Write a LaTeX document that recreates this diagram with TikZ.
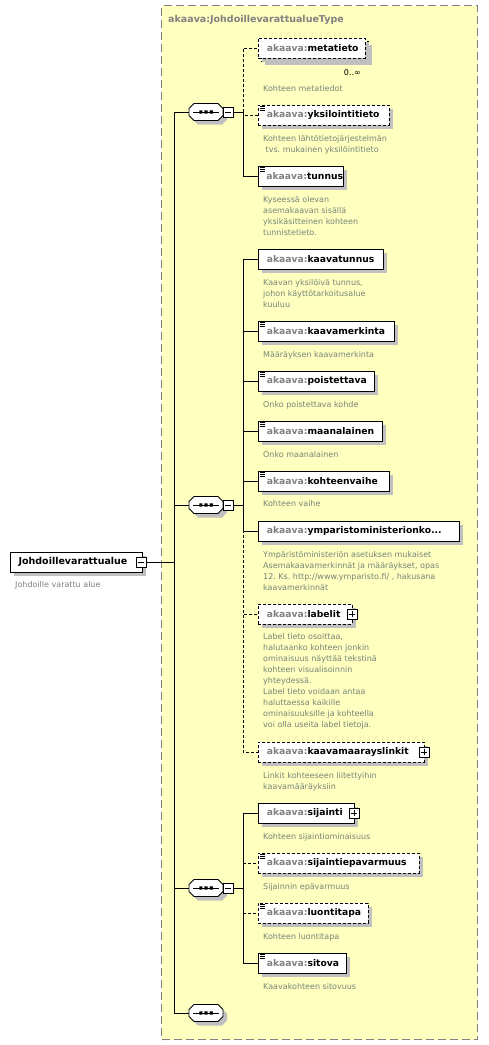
\documentclass[tikz,border=0pt]{standalone}
\usepackage{fontspec}
\setmainfont{DejaVu Sans}
\frenchspacing
\usetikzlibrary{shadows}
\definecolor{typefill}{RGB}{255,255,192}
\definecolor{typeline}{RGB}{128,128,128}
\definecolor{prefixc}{RGB}{128,128,128}
\definecolor{descc}{RGB}{120,132,120}
\definecolor{shadowc}{RGB}{192,192,192}
\newcommand\pfx{\textcolor{prefixc}{akaava:}}
\newcommand\dl[1]{\begin{tabular}[t]{@{}l@{}}#1\end{tabular}}
\newcommand\docicon[1]{\draw[line width=0.6pt] ([shift={(2,1.2)}]#1.north west) -- +(5,0) ([shift={(2,3.2)}]#1.north west) -- +(5,0) ([shift={(2,5.2)}]#1.north west) -- +(5,0);}
\newcommand\minusbox[3]{\node[pmbox] (#1) at (#2,#3) {}; \draw[line width=0.8pt] (#1.center) +(-3,0) -- +(3,0);}
\newcommand\plusbox[3]{\node[pmbox] (#1) at (#2,#3) {}; \draw[line width=0.8pt] (#1.center) +(-3,0) -- +(3,0) (#1.center) +(0,-3) -- +(0,3);}
\newcommand\seqsym[3]{%
  \node[seqhold] (#1) at (#2,#3) {};
  \fill[shadowc] ([shift={(4,4)}]#1.center) +(-17,-3.5) -- +(-12,-8.5) -- +(12,-8.5) -- +(17,-3.5) -- +(17,3.5) -- +(12,8.5) -- +(-12,8.5) -- +(-17,3.5) -- cycle;
  \draw[line width=0.8pt, fill=white] (#1.center) +(-17,-3.5) -- +(-12,-8.5) -- +(12,-8.5) -- +(17,-3.5) -- +(17,3.5) -- +(12,8.5) -- +(-12,8.5) -- +(-17,3.5) -- cycle;
  \draw[line width=0.8pt] (#1.center) +(-13,0) -- +(13,0);
  \fill (#1.center) +(-6.75,-1.6) rectangle +(-3.55,1.6) +(-1.6,-1.6) rectangle +(1.6,1.6) +(3.55,-1.6) rectangle +(6.75,1.6);
}
\begin{document}
\begin{tikzpicture}[x=1pt,y=-1pt,
  elembox/.style={draw=black, fill=white, line width=0.8pt, minimum height=20pt, inner xsep=8.5pt, inner ysep=0pt, anchor=west,
    align=left, font=\bfseries\fontsize{9.2}{11}\selectfont,
    general shadow={fill=shadowc, shadow xshift=4pt, shadow yshift=-4pt}},
  optbox/.style={elembox, dash pattern=on 3pt off 2pt},
  desc/.style={anchor=base west, inner sep=0pt, text=descc, font=\fontsize{8}{11}\selectfont},
  conn/.style={line width=0.8pt},
  optconn/.style={conn, dash pattern=on 3pt off 2pt},
  pmbox/.style={draw=black, fill=white, line width=0.8pt, minimum width=10pt, minimum height=10pt, inner sep=0pt},
  seqhold/.style={minimum width=34pt, minimum height=17pt, inner sep=0pt},
  typebox/.style={draw=typeline, fill=typefill, line width=1pt, dash pattern=on 8pt off 4pt, anchor=north west, inner sep=0pt}
]
\useasboundingbox (0,0) rectangle (488,1045);

% type container
\node[typebox, minimum width=316, minimum height=1034] (typebg) at (161,5) {};
\node[anchor=base west, inner sep=0pt, text=prefixc, font=\bfseries\fontsize{9.5}{11}\selectfont] (typetitle) at (168,22.5) {akaava:JohdoillevarattualueType};

% root element
\node[elembox, anchor=center, inner xsep=0pt, minimum width=132, font=\bfseries\fontsize{9.5}{11}\selectfont] (root) at (76,562) {Johdoillevarattualue\hspace*{6pt}};
\minusbox{rootm}{141}{562}
\node[desc] (rootd) at (15,587.5) {Johdoille varattu alue};

% sequences
\seqsym{seq1}{206}{112}
\minusbox{seq1m}{228}{112}
\seqsym{seq2}{206}{505}
\minusbox{seq2m}{228}{505}
\seqsym{seq3}{206}{888}
\minusbox{seq3m}{228}{888}
\seqsym{seq4}{206}{1013}

% ---- group 1
\fill[shadowc] (265,45) rectangle (372,65);
\draw[line width=0.8pt, dash pattern=on 3pt off 2pt, fill=white] (261,41) rectangle (368,61);
\node[optbox, general shadow={}, text width=90] (metatieto) at (258,48) {\mbox{\pfx metatieto}};
\node[anchor=base east, inner sep=0pt, font=\fontsize{8}{10}\selectfont] (metaocc) at (361,75.5) {0..∞};
\node[desc] (metatietod) at (263,91.5) {Kohteen metatiedot};

\node[optbox, text width=114] (yksilo) at (258,115) {\mbox{\pfx yksilointitieto}};
\docicon{yksilo}
\node[desc] (yksilod) at (263,141.5) {\dl{Kohteen lähtötietojärjestelmän\\\hspace*{2.5pt}tvs. mukainen yksilöintitieto}};

\node[elembox, text width=69, inner xsep=8pt] (tunnus) at (258,176) {\mbox{\pfx tunnus}};
\docicon{tunnus}
\node[desc] (tunnusd) at (263,202.5) {\dl{Kyseessä olevan\\asemakaavan sisällä\\yksikäsitteinen kohteen\\tunnistetieto.}};

% ---- group 2
\node[elembox, text width=108] (kaavatunnus) at (258,259) {\mbox{\pfx kaavatunnus}};
\node[desc] (kaavatunnusd) at (263,285.5) {\dl{Kaavan yksilöivä tunnus,\\johon käyttötarkoitusalue\\kuuluu}};

\node[elembox, text width=119] (kaavamerkinta) at (258,331) {\mbox{\pfx kaavamerkinta}};
\docicon{kaavamerkinta}
\node[desc] (kaavamerkintad) at (263,357.5) {Määräyksen kaavamerkinta};

\node[elembox, text width=99] (poistettava) at (258,381) {\mbox{\pfx poistettava}};
\docicon{poistettava}
\node[desc] (poistettavad) at (263,407.5) {Onko poistettava kohde};

\node[elembox, text width=107] (maanalainen) at (258,431) {\mbox{\pfx maanalainen}};
\docicon{maanalainen}
\node[desc] (maanalainend) at (263,457.5) {Onko maanalainen};

\node[elembox, text width=114] (kohteenvaihe) at (258,481) {\mbox{\pfx kohteenvaihe}};
\docicon{kohteenvaihe}
\node[desc] (kohteenvaihed) at (263,506.5) {Kohteen vaihe};

\node[elembox, text width=184] (ympar) at (258,531) {\mbox{\pfx ymparistoministerionko...}};
\node[desc] (ympard) at (263,557.5) {\dl{Ympäristöministeriön asetuksen mukaiset\\Asemakaavamerkinnät ja määräykset, opas\\12. Ks. http://www.ymparisto.fi/ , hakusana\\kaavamerkinnät}};

\node[optbox, text width=77] (labelit) at (258,614) {\mbox{\pfx labelit}};
\plusbox{labelitp}{352}{614}
\node[desc] (labelitd) at (263,639.5) {\dl{Label tieto osoittaa,\\halutaanko kohteen jonkin\\ominaisuus näyttää tekstinä\\kohteen visualisoinnin\\yhteydessä.\\Label tieto voidaan antaa\\haluttaessa kaikille\\ominaisuuksille ja kohteella\\voi olla useita label tietoja.}};

\node[optbox, text width=149] (linkit) at (258,752) {\mbox{\pfx kaavamaarayslinkit}};
\plusbox{linkitp}{424}{752}
\node[desc] (linkitd) at (263,778.5) {\dl{Linkit kohteeseen liitettyihin\\kaavamääräyksiin}};

% ---- group 3
\node[elembox, text width=79] (sijainti) at (258,813) {\mbox{\pfx sijainti}};
\plusbox{sijaintip}{354}{813}
\node[desc] (sijaintid) at (263,839.5) {Kohteen sijaintiominaisuus};

\node[optbox, text width=144] (epavarmuus) at (258,863) {\mbox{\pfx sijaintiepavarmuus}};
\docicon{epavarmuus}
\node[desc] (epavarmuusd) at (263,889.5) {Sijainnin epävarmuus};

\node[optbox, text width=93] (luontitapa) at (258,913) {\mbox{\pfx luontitapa}};
\docicon{luontitapa}
\node[desc] (luontitapad) at (263,939.5) {Kohteen luontitapa};

\node[elembox, text width=71] (sitova) at (258,963) {\mbox{\pfx sitova}};
\docicon{sitova}
\node[desc] (sitovad) at (263,989.5) {Kaavakohteen sitovuus};

% ---- connectors
\coordinate (trunktop) at (174,112);
\coordinate (trunkbot) at (174,1013);
\draw[conn] (trunktop) -- (trunkbot);
\draw[conn] (rootm.east) -- (rootm.east -| trunktop);
\draw[conn] (seq1.west -| trunktop) -- (seq1.west);
\draw[conn] (seq2.west -| trunktop) -- (seq2.west);
\draw[conn] (seq3.west -| trunktop) -- (seq3.west);
\draw[conn] (seq4.west -| trunktop) -- (seq4.west);

\draw[optconn] (seq1m.east) ++(10,0) |- (metatieto.west);
\draw[optconn] (seq1m.east) ++(10,0) |- (yksilo.west);
\draw[conn] (seq1m.east) -- ++(10,0) |- (tunnus.west);

\draw[optconn] (seq2m.east) ++(10,0) |- (linkit.west);
\draw[optconn] (seq2m.east) ++(10,0) |- (labelit.west);
\draw[conn] (seq2m.east) -- ++(10,0) |- (kaavatunnus.west);
\draw[conn] (seq2m.east) ++(10,0) |- (kaavamerkinta.west);
\draw[conn] (seq2m.east) ++(10,0) |- (poistettava.west);
\draw[conn] (seq2m.east) ++(10,0) |- (maanalainen.west);
\draw[conn] (seq2m.east) ++(10,0) |- (kohteenvaihe.west);
\draw[conn] (seq2m.east) ++(10,0) |- (ympar.west);

\draw[optconn] (seq3m.east) ++(10,0) |- (epavarmuus.west);
\draw[optconn] (seq3m.east) ++(10,0) |- (luontitapa.west);
\draw[conn] (seq3m.east) -- ++(10,0) |- (sijainti.west);
\draw[conn] (seq3m.east) ++(10,0) |- (sitova.west);
\end{tikzpicture}
\end{document}
